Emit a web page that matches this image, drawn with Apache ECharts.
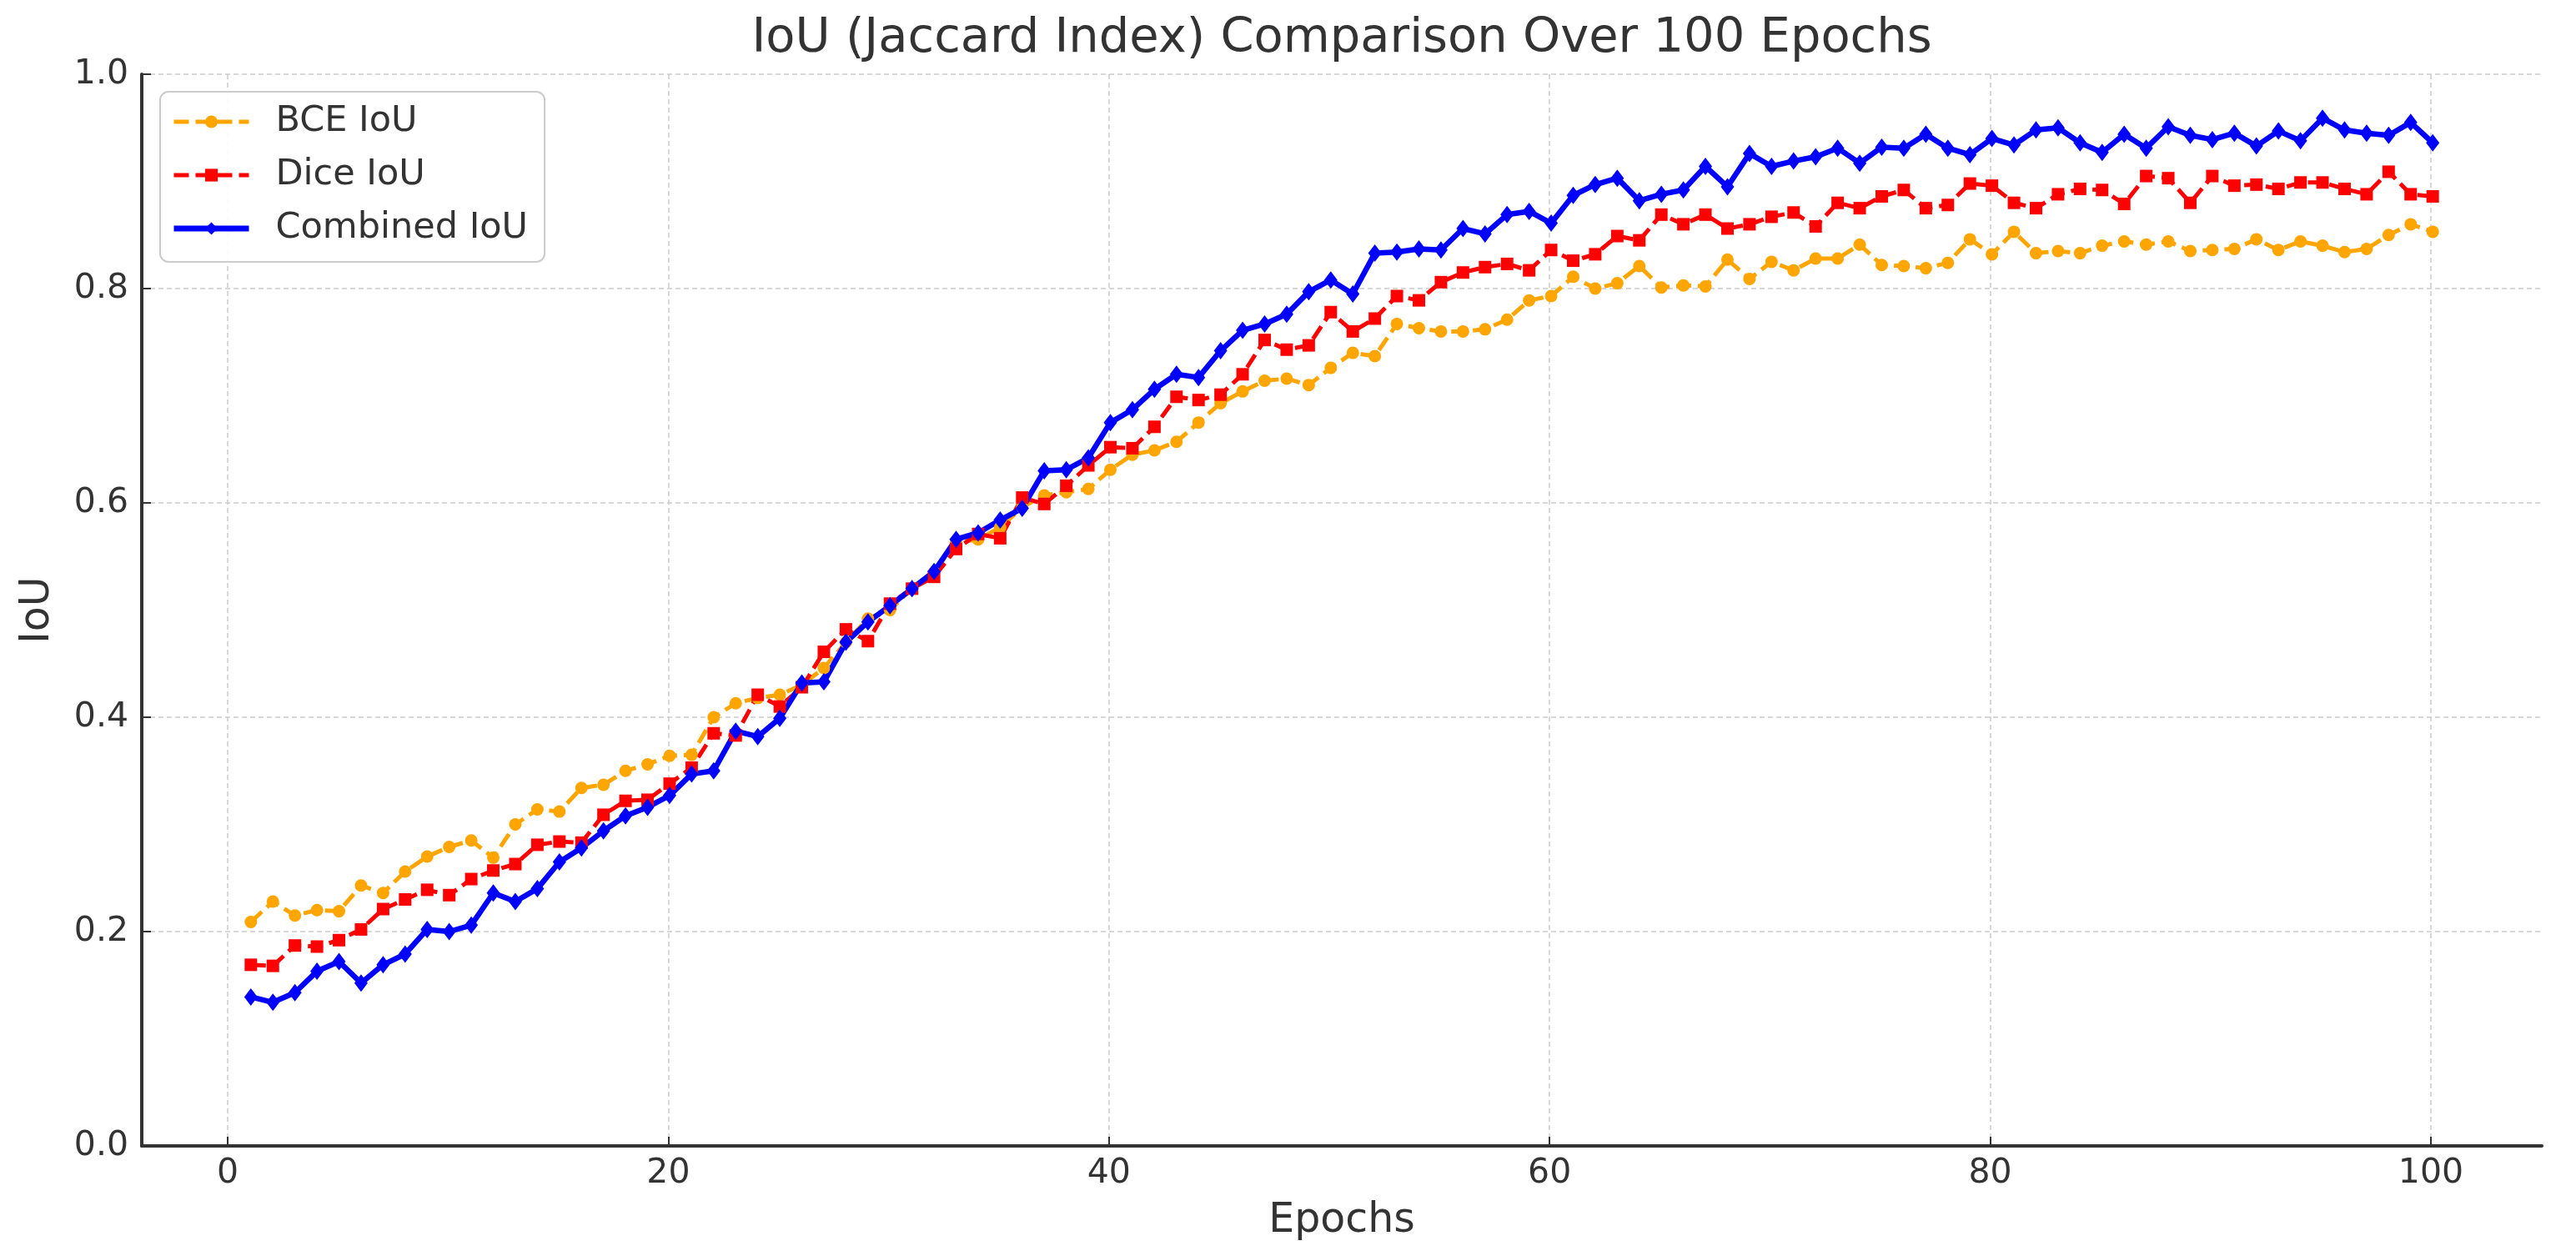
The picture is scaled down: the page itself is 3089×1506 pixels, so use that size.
<!DOCTYPE html>
<html>
<head>
<meta charset="utf-8">
<script src="https://cdn.jsdelivr.net/npm/echarts@6/dist/echarts.min.js"></script>
<style>html,body{margin:0;padding:0;background:#fff;}#c{width:3089px;height:1506px;}</style>
</head>
<body>
<div id="c"></div>
<script>
const epochs = Array.from({length: 100}, (_, i) => i + 1);
const xTicks = [0, 20, 40, 60, 80, 100];
const yTicks = [0.0, 0.2, 0.4, 0.6, 0.8, 1.0];

const bceIoU = [
0.209,0.228,0.215,0.220,0.219,0.243,0.236,0.256,0.270,0.279,
0.285,0.269,0.300,0.314,0.312,0.334,0.337,0.350,0.356,0.364,
0.365,0.400,0.413,0.418,0.421,0.430,0.446,0.470,0.492,0.500,
0.520,0.535,0.563,0.566,0.577,0.596,0.607,0.610,0.613,0.631,
0.645,0.649,0.657,0.675,0.693,0.704,0.714,0.716,0.710,0.726,
0.740,0.737,0.767,0.763,0.760,0.760,0.762,0.771,0.789,0.793,
0.811,0.800,0.805,0.821,0.801,0.803,0.802,0.827,0.809,0.825,
0.817,0.828,0.828,0.841,0.822,0.821,0.819,0.824,0.846,0.832,
0.853,0.833,0.835,0.833,0.840,0.844,0.841,0.844,0.835,0.836,
0.837,0.846,0.836,0.844,0.840,0.834,0.837,0.850,0.860,0.853
];
const diceIoU = [
0.169,0.168,0.187,0.186,0.192,0.202,0.221,0.230,0.239,0.234,
0.249,0.257,0.263,0.281,0.284,0.283,0.309,0.322,0.323,0.338,
0.353,0.385,0.383,0.421,0.410,0.428,0.461,0.482,0.471,0.506,
0.520,0.531,0.557,0.571,0.567,0.605,0.599,0.616,0.635,0.652,
0.651,0.671,0.699,0.696,0.701,0.720,0.752,0.743,0.747,0.778,
0.760,0.772,0.793,0.789,0.806,0.815,0.820,0.823,0.817,0.836,
0.826,0.832,0.849,0.845,0.869,0.860,0.869,0.856,0.860,0.867,
0.871,0.858,0.880,0.875,0.886,0.892,0.875,0.878,0.898,0.896,
0.880,0.875,0.888,0.893,0.892,0.879,0.905,0.903,0.880,0.905,
0.896,0.897,0.893,0.899,0.899,0.893,0.888,0.909,0.888,0.886
];
const combinedIoU = [
0.139,0.134,0.143,0.163,0.172,0.152,0.169,0.179,0.202,0.200,
0.206,0.236,0.228,0.240,0.265,0.278,0.294,0.308,0.316,0.327,
0.347,0.350,0.387,0.382,0.399,0.432,0.433,0.470,0.489,0.504,
0.520,0.536,0.566,0.572,0.584,0.595,0.630,0.631,0.642,0.675,
0.687,0.706,0.720,0.717,0.742,0.761,0.767,0.776,0.797,0.808,
0.795,0.833,0.834,0.837,0.836,0.856,0.851,0.869,0.872,0.861,
0.887,0.897,0.903,0.882,0.888,0.892,0.914,0.895,0.926,0.914,
0.919,0.923,0.931,0.917,0.932,0.931,0.944,0.931,0.925,0.940,
0.934,0.948,0.950,0.936,0.927,0.944,0.931,0.951,0.943,0.939,
0.945,0.933,0.947,0.938,0.959,0.948,0.945,0.943,0.955,0.936
];

const FONT = 'DejaVu Sans';
const TXT = '#333333';
const chart = echarts.init(document.getElementById('c'), null, {renderer: 'canvas', width: 3089, height: 1506});
const pairs = arr => epochs.map((e, i) => [e, arr[i]]);
const gridLine = {show: true, lineStyle: {color: '#cccccc', width: 1.5, type: [6, 4]}};
const DASH = [18, 8];

chart.setOption({
  animation: false,
  backgroundColor: '#ffffff',
  title: {
    text: 'IoU (Jaccard Index) Comparison Over 100 Epochs',
    left: 1609, top: 18, textAlign: 'center', padding: 0,
    textStyle: {fontFamily: FONT, fontSize: 57.5, fontWeight: 'normal', color: TXT}
  },
  legend: {
    orient: 'vertical', left: 192, top: 110,
    padding: [14, 20, 18, 13], itemGap: 20, itemWidth: 90, itemHeight: 19,
    backgroundColor: 'rgba(255,255,255,0.92)', borderColor: '#cccccc', borderWidth: 2, borderRadius: 10,
    textStyle: {fontFamily: FONT, fontSize: 43, lineHeight: 44, color: TXT, padding: [0, 0, 0, 27]},
    data: [
      {name: 'BCE IoU', lineStyle: {width: 5, type: DASH, color: '#FFA500'}},
      {name: 'Dice IoU', lineStyle: {width: 5, type: DASH, color: '#FF0000'}},
      {name: 'Combined IoU', lineStyle: {width: 7, type: 'solid', color: '#0000FF'}}
    ]
  },
  grid: [
    {left: 170, right: 41, top: 89, bottom: 132},
    {left: 273, right: 174, top: 89, bottom: 132}
  ],
  xAxis: [
    {gridIndex: 0, type: 'value', min: -3.95, max: 104.95,
     axisLine: {show: true, onZero: false, lineStyle: {color: '#333333', width: 4}},
     axisTick: {show: false}, axisLabel: {show: false}, splitLine: {show: false},
     name: 'Epochs', nameLocation: 'middle', nameGap: 66,
     nameTextStyle: {fontFamily: FONT, fontSize: 49, color: TXT}},
    {gridIndex: 1, type: 'value', min: xTicks[0], max: xTicks[xTicks.length - 1], interval: 20,
     axisLine: {show: false, onZero: false},
     axisTick: {show: true, inside: true, length: 11, lineStyle: {color: '#333333', width: 2}},
     axisLabel: {fontFamily: FONT, fontSize: 41, color: TXT, margin: 13},
     splitLine: gridLine}
  ],
  yAxis: [
    {gridIndex: 0, type: 'value', min: yTicks[0], max: yTicks[yTicks.length - 1], interval: 0.2,
     axisLine: {show: true, onZero: false, lineStyle: {color: '#333333', width: 4}},
     axisTick: {show: true, inside: true, length: 11, lineStyle: {color: '#333333', width: 2}},
     axisLabel: {fontFamily: FONT, fontSize: 41, color: TXT, margin: 16, formatter: v => v.toFixed(1)},
     splitLine: gridLine,
     name: 'IoU', nameLocation: 'middle', nameGap: 100,
     nameTextStyle: {fontFamily: FONT, fontSize: 49, color: TXT}},
    {gridIndex: 1, type: 'value', min: 0, max: 1, show: false, axisLine: {onZero: false}, splitLine: {show: false}}
  ],
  series: [
    {name: 'BCE IoU', type: 'line', xAxisIndex: 0, yAxisIndex: 0, data: pairs(bceIoU),
     symbol: 'circle', symbolSize: 15, color: '#FFA500',
     lineStyle: {color: '#FFA500', width: 5, type: DASH},
     itemStyle: {color: '#FFA500'}},
    {name: 'Dice IoU', type: 'line', xAxisIndex: 0, yAxisIndex: 0, data: pairs(diceIoU),
     symbol: 'rect', symbolSize: 15, color: '#FF0000',
     lineStyle: {color: '#FF0000', width: 5, type: DASH},
     itemStyle: {color: '#FF0000'}},
    {name: 'Combined IoU', type: 'line', xAxisIndex: 0, yAxisIndex: 0, data: pairs(combinedIoU),
     symbol: 'diamond', symbolSize: [16, 21], color: '#0000FF',
     lineStyle: {color: '#0000FF', width: 6.5, type: 'solid'},
     itemStyle: {color: '#0000FF'}}
  ]
});
</script>
</body>
</html>
